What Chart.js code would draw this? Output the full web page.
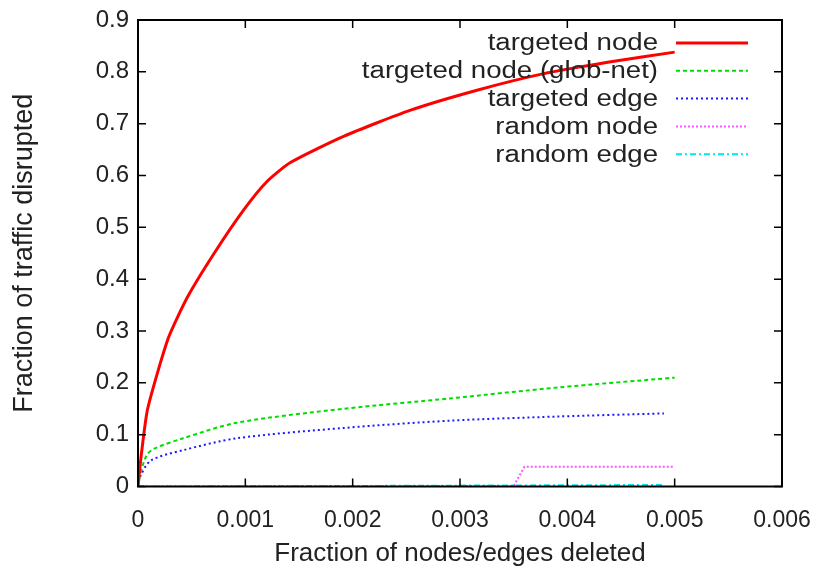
<!DOCTYPE html>
<html>
<head>
<meta charset="utf-8">
<script src="https://cdn.jsdelivr.net/npm/chart.js@4.4.1/dist/chart.umd.min.js"></script>
<style>
  body { margin: 0; background: #fff; }
  #wrap { width: 825px; height: 573px; }
</style>
</head>
<body>
<div id="wrap"><canvas id="myChart"></canvas></div>
<script>
// values
var seriesNames = ["targeted node", "targeted node (glob-net)", "targeted edge", "random node", "random edge"];

var tNodeX = [0, 0.00003, 0.00009, 0.00028, 0.00046, 0.00071, 0.00099, 0.0012, 0.00142, 0.00192, 0.00254, 0.00315, 0.00377, 0.00439, 0.005];
var tNodeY = [0, 0.06, 0.15, 0.285, 0.365, 0.45, 0.535, 0.588, 0.625, 0.676, 0.726, 0.764, 0.796, 0.819, 0.838];

var globX = [0, 0.00002, 0.00008, 0.00015, 0.00042, 0.00092, 0.00192, 0.00291, 0.00391, 0.005];
var globY = [0, 0.023, 0.06, 0.073, 0.093, 0.123, 0.15, 0.17, 0.191, 0.21];

var tEdgeX = [0, 0.00002, 0.00012, 0.00042, 0.00092, 0.00192, 0.00291, 0.00391, 0.0049];
var tEdgeY = [0, 0.019, 0.05, 0.07, 0.093, 0.113, 0.127, 0.135, 0.141];

var rNodeX = [0, 0.0035, 0.0036, 0.005];
var rNodeY = [0, 0.001, 0.038, 0.038];

var rEdgeX = [0, 0.002, 0.0049];
var rEdgeY = [0, 0.001, 0.003];

var xTicks = [0, 0.001, 0.002, 0.003, 0.004, 0.005, 0.006];
var yTicks = [0, 0.1, 0.2, 0.3, 0.4, 0.5, 0.6, 0.7, 0.8, 0.9];

function pts(xs, ys) {
  return xs.map(function (x, i) { return { x: x, y: ys[i] }; });
}

var FONT = "'Liberation Sans', Arial, sans-serif";

// gnuplot style box with inward ticks + legend drawn at top right
var boxPlugin = {
  id: 'box',
  afterDatasetsDraw: function (chart) {
    var c = chart.ctx, a = chart.chartArea;
    var xs = chart.scales.x, ys = chart.scales.y;
    c.save();
    c.strokeStyle = '#000';
    c.lineWidth = 2;
    c.strokeRect(a.left, a.top, a.right - a.left, a.bottom - a.top);
    c.lineWidth = 1.5;
    c.beginPath();
    xTicks.forEach(function (v) {
      var px = xs.getPixelForValue(v);
      c.moveTo(px, a.bottom); c.lineTo(px, a.bottom - 8);
      c.moveTo(px, a.top); c.lineTo(px, a.top + 8);
    });
    yTicks.forEach(function (v) {
      var py = ys.getPixelForValue(v);
      c.moveTo(a.left, py); c.lineTo(a.left + 8, py);
      c.moveTo(a.right, py); c.lineTo(a.right - 8, py);
    });
    c.stroke();

    // legend (text a bit wider, like the original)
    chart.data.datasets.forEach(function (ds, i) {
      var y = 43 + i * 27.8;
      c.save();
      c.font = '23px ' + FONT;
      c.textAlign = 'right';
      c.textBaseline = 'middle';
      c.fillStyle = '#222';
      c.translate(658, y);
      c.scale(1.2, 1);
      c.fillText(ds.label, 0, 1);
      c.restore();
      c.strokeStyle = ds.borderColor;
      c.lineWidth = ds.borderWidth;
      c.setLineDash(ds.borderDash || []);
      c.beginPath();
      c.moveTo(676, y);
      c.lineTo(748, y);
      c.stroke();
    });
    c.restore();
  }
};

var ctx = document.getElementById("myChart").getContext('2d');
var myChart = new Chart(ctx, {
  type: 'line',
  data: {
    datasets: [
      { label: seriesNames[0], data: pts(tNodeX, tNodeY), borderColor: '#ff0000', borderWidth: 3, tension: 0.2 },
      { label: seriesNames[1], data: pts(globX, globY), borderColor: '#00dd00', borderWidth: 2, borderDash: [4, 3], tension: 0.3 },
      { label: seriesNames[2], data: pts(tEdgeX, tEdgeY), borderColor: '#1a1aff', borderWidth: 2, borderDash: [2, 3], tension: 0.3 },
      { label: seriesNames[3], data: pts(rNodeX, rNodeY), borderColor: '#ff55ff', borderWidth: 2, borderDash: [2, 2], tension: 0 },
      { label: seriesNames[4], data: pts(rEdgeX, rEdgeY), borderColor: '#00e5ee', borderWidth: 2, borderDash: [6, 3, 2, 3], tension: 0 }
    ]
  },
  options: {
    responsive: true,
    maintainAspectRatio: false,
    animation: false,
    layout: { padding: { top: 20, right: 43, left: 0, bottom: 0 } },
    elements: { point: { radius: 0 } },
    plugins: { legend: { display: false }, tooltip: { enabled: false } },
    scales: {
      x: {
        type: 'linear',
        min: 0, max: 0.006,
        afterFit: function (s) { s.height = 86.5; s.paddingLeft = 0; s.paddingRight = 0; },
        afterBuildTicks: function (s) { s.ticks = xTicks.map(function (v) { return { value: v }; }); },
        grid: { display: false, drawTicks: false },
        border: { display: false },
        ticks: {
          padding: 20,
          color: '#222',
          font: { family: FONT, size: 23 },
          callback: function (v) { return String(Number(v.toFixed(3))); }
        },
        title: { display: true, text: 'Fraction of nodes/edges deleted', color: '#222', font: { family: FONT, size: 26 }, padding: { top: 0 } }
      },
      y: {
        type: 'linear',
        min: 0, max: 0.9,
        afterFit: function (s) { s.width = 138; s.paddingTop = 0; s.paddingBottom = 0; },
        afterBuildTicks: function (s) { s.ticks = yTicks.map(function (v) { return { value: v }; }); },
        grid: { display: false, drawTicks: false },
        border: { display: false },
        ticks: {
          padding: 9,
          color: '#222',
          font: { family: FONT, size: 24 },
          callback: function (v) { return String(Number(v.toFixed(1))); }
        },
        title: { display: true, text: 'Fraction of traffic disrupted', color: '#222', font: { family: FONT, size: 27 }, padding: { top: 8 } }
      }
    }
  },
  plugins: [boxPlugin]
});
</script>
</body>
</html>
